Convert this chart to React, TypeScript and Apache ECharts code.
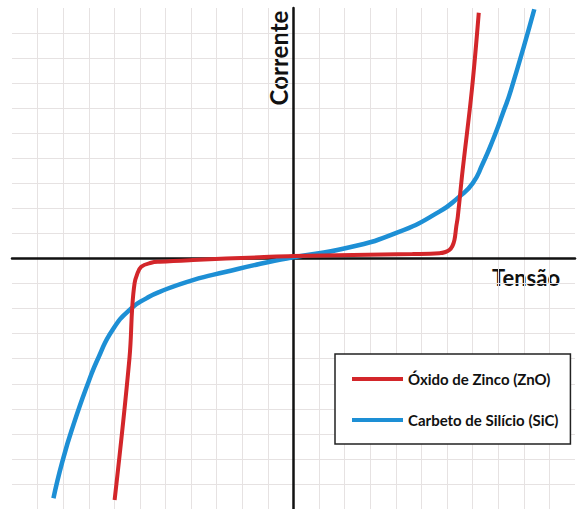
import React, { useEffect, useRef } from "react";
import * as echarts from "echarts";

// Data in grid units (1 unit = one grid cell)
const znoX = [-6.99, -6.41, -6.3, -6.21, -6.12, -5.95, -5.56, -5.23, -3.93, -1.33, 0, 4.65, 5.7, 5.94, 6.09, 6.21, 6.29, 6.36, 6.42, 6.61, 6.97, 7.24];
const znoY = [-9.64, -3.98, -1.92, -0.99, -0.66, -0.33, -0.17, -0.13, -0.06, 0.05, 0.1, 0.18, 0.21, 0.26, 0.34, 0.5, 0.74, 1.27, 1.67, 3.53, 6.73, 9.81];

const sicX = [-9.38, -9.03, -8.6, -8.0, -7.62, -7.06, -6.34, -5.75, -5.23, -3.93, -2.63, -1.33, 0, 2.07, 4.02, 5.7, 6.48, 7.0, 7.38, 7.79, 8.18, 8.5, 9.41];
const sicY = [-9.57, -8.1, -6.64, -4.9, -3.95, -2.83, -1.99, -1.59, -1.33, -0.86, -0.53, -0.22, 0.05, 0.42, 1.02, 1.87, 2.47, 3.0, 3.75, 4.73, 5.8, 6.73, 9.95];

const seriesNames = ["Óxido de Zinco (ZnO)", "Carbeto de Silício (SiC)"];
const xName = "Tensão";
const yName = "Corrente";

const FONT = "Lato, 'Open Sans', sans-serif";

export default function App() {
  const ref = useRef<HTMLDivElement>(null);
  useEffect(() => {
    if (!ref.current) return;
    const chart = echarts.init(ref.current, undefined, { renderer: "svg" });
    const zno = znoX.map((x, i) => [x, znoY[i]]);
    const sic = sicX.map((x, i) => [x, sicY[i]]);
    chart.setOption({
      animation: false,
      backgroundColor: "#ffffff",
      grid: { left: 12, right: 4, top: 8, bottom: 0, containLabel: false },
      xAxis: {
        type: "value",
        min: -11,
        max: 11,
        interval: 1,
        axisLine: { show: true, onZero: true, lineStyle: { color: "#111", width: 2.5 } },
        axisTick: { show: false },
        axisLabel: { show: false },
        splitLine: { show: true, showMinLine: false, showMaxLine: false, lineStyle: { color: "#e6e2e2", width: 1 } },
      },
      yAxis: {
        type: "value",
        min: -10,
        max: 10,
        interval: 1,
        axisLine: { show: true, onZero: true, lineStyle: { color: "#111", width: 2.5 } },
        axisTick: { show: false },
        axisLabel: { show: false },
        splitLine: { show: true, showMinLine: false, showMaxLine: false, lineStyle: { color: "#e6e2e2", width: 1 } },
      },
      legend: {
        orient: "vertical",
        left: 335,
        top: 354,
        padding: [15, 12, 14, 17],
        itemGap: 21,
        itemWidth: 51,
        itemHeight: 4,
        icon: "rect",
        backgroundColor: "#ffffff",
        borderColor: "#222",
        borderWidth: 1.5,
        borderRadius: 0,
        selectedMode: false,
        textStyle: { fontSize: 15, fontWeight: "bold", fontFamily: FONT, color: "#111", lineHeight: 20 },
        data: seriesNames,
      },
      graphic: [
        {
          type: "text",
          x: 278,
          y: 58,
          rotation: Math.PI / 2,
          style: {
            text: yName,
            fontSize: 24,
            fontWeight: "bold",
            fontFamily: FONT,
            fill: "#111",
            textAlign: "center",
            textVerticalAlign: "middle",
          },
        },
        {
          type: "text",
          x: 526,
          y: 277,
          style: {
            text: xName,
            fontSize: 22,
            fontWeight: "bold",
            fontFamily: FONT,
            fill: "#111",
            textAlign: "center",
            textVerticalAlign: "middle",
          },
        },
      ],
      series: [
        {
          name: seriesNames[0],
          type: "line",
          data: zno,
          smooth: 0.4,
          showSymbol: false,
          symbol: "none",
          color: "#d3262a",
          lineStyle: { color: "#d3262a", width: 4 },
          z: 3,
        },
        {
          name: seriesNames[1],
          type: "line",
          data: sic,
          smooth: 0.55,
          showSymbol: false,
          symbol: "none",
          color: "#1d8fd5",
          lineStyle: { color: "#1d8fd5", width: 4.5 },
          z: 2,
        },
      ],
    });
    return () => chart.dispose();
  }, []);
  return (
    <div
      ref={ref}
      style={{ position: "fixed", left: 0, top: 0, width: 579, height: 509, background: "#fff" }}
    />
  );
}
